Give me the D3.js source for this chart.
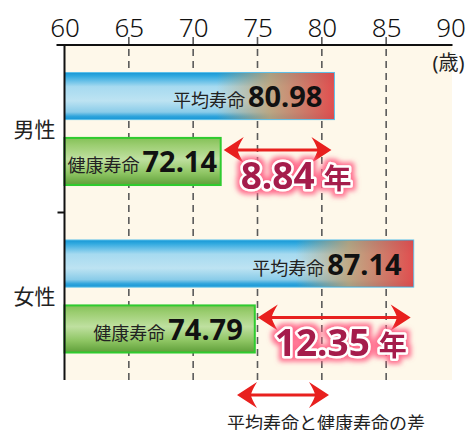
<!DOCTYPE html>
<meta charset="utf-8">
<style>
body { margin: 0; background: #fff; }
svg text { font-family: "Noto Sans", "Noto Sans CJK JP", sans-serif; }
</style>
<body>
<div id="chart"></div>
<script src="https://d3js.org/d3.v7.min.js"></script>
<script>

// values
var genders     = ["男性", "女性"];
var kinds       = ["平均寿命", "健康寿命"];
var avgLife     = [80.98, 87.14];
var healthyLife = [72.14, 74.79];
var gapYears    = [8.84, 12.35];
var xTicks      = [60, 65, 70, 75, 80, 85, 90];
var unitLabel   = "(歳)";
var legendText  = "平均寿命と健康寿命の差";

var chartWidth = 469, chartHeight = 430;
var plot = {top: 45, bottom: 380};

var svg = d3.select("#chart").append("svg")
    .attr("width", chartWidth)
    .attr("height", chartHeight);

var defs = svg.append("defs");

var x = d3.scaleLinear().domain([60, 90]).range([64.5, 450.5]);
var y0 = d3.scaleBand().domain(genders).range([plot.top, plot.bottom]);
var y1 = d3.scaleBand().domain(kinds).range([0, y0.bandwidth()])
    .paddingInner(0.28).paddingOuter(0.42);

// gradients
function vGrad(id, stops) {
  var g = defs.append("linearGradient").attr("id", id)
      .attr("x1", 0).attr("y1", 0).attr("x2", 0).attr("y2", 1);
  stops.forEach(function(s) {
    g.append("stop").attr("offset", s[0]).attr("stop-color", s[1]);
  });
}
vGrad("blueGrad", [[0, "#1797d5"], [0.08, "#32aae0"], [0.3, "#a6daf0"],
                   [0.6, "#bde3f2"], [0.84, "#8acce9"], [0.93, "#2fa4dc"], [1, "#1797d5"]]);
vGrad("greenGrad", [[0, "#84c158"], [0.15, "#9bcd70"], [0.45, "#bfe0a0"],
                    [0.75, "#8ec563"], [1, "#5f9f39"]]);

// glow for the gap numbers
var glow = defs.append("filter").attr("id", "glow")
    .attr("x", "-20%").attr("y", "-40%").attr("width", "140%").attr("height", "180%");
glow.append("feMorphology").attr("in", "SourceAlpha").attr("operator", "dilate")
    .attr("radius", 2.5).attr("result", "d");
glow.append("feGaussianBlur").attr("in", "d").attr("stdDeviation", 2.5).attr("result", "b");
glow.append("feFlood").attr("flood-color", "#ff5f85").attr("flood-opacity", 0.9);
glow.append("feComposite").attr("in2", "b").attr("operator", "in").attr("result", "g");
var merge = glow.append("feMerge");
merge.append("feMergeNode").attr("in", "g");
merge.append("feMergeNode").attr("in", "SourceGraphic");

// plot background
svg.append("rect")
    .attr("x", x(60)).attr("y", plot.top)
    .attr("width", x(90) - x(60) + 1.5).attr("height", plot.bottom - plot.top)
    .attr("fill", "#fef8ea");

// dashed grid
svg.selectAll(".grid")
    .data(xTicks.filter(function(t) { return t > 60 && t < 90; }))
    .enter().append("line")
    .attr("x1", function(d) { return x(d); })
    .attr("x2", function(d) { return x(d); })
    .attr("y1", plot.top - 8).attr("y2", plot.bottom)
    .attr("stroke", "#5a5a5a").attr("stroke-width", 1.6)
    .attr("stroke-dasharray", "7,5");

var rows = [];
genders.forEach(function(g, i) {
  rows.push({g: g, k: kinds[0], v: avgLife[i]});
  rows.push({g: g, k: kinds[1], v: healthyLife[i]});
});

function barY(d) { return y0(d.g) + y1(d.k); }

var bars = svg.selectAll(".bar")
    .data(rows)
    .enter().append("g").attr("class", "bar");

bars.append("rect")
    .attr("x", x(60))
    .attr("y", barY)
    .attr("width", function(d) { return x(d.v) - x(60); })
    .attr("height", y1.bandwidth())
    .attr("fill", function(d) { return d.k == kinds[0] ? "url(#blueGrad)" : "url(#greenGrad)"; })
    .attr("stroke", function(d) { return d.k == kinds[0] ? "#5cc0ea" : "#2fcb2f"; })
    .attr("stroke-width", function(d) { return d.k == kinds[0] ? 1 : 2; });

// reddish fade at the end of the average-life bars
bars.filter(function(d) { return d.k == kinds[0]; })
    .each(function(d, i) {
      var id = "redFade" + i;
      var g = defs.append("linearGradient").attr("id", id)
          .attr("gradientUnits", "userSpaceOnUse")
          .attr("x1", x(d.v) - 118).attr("x2", x(d.v)).attr("y1", 0).attr("y2", 0);
      g.append("stop").attr("offset", 0).attr("stop-color", "#c0a46e").attr("stop-opacity", 0);
      g.append("stop").attr("offset", 0.45).attr("stop-color", "#c2a072").attr("stop-opacity", 0.85);
      g.append("stop").attr("offset", 1).attr("stop-color", "#e34646").attr("stop-opacity", 0.95);
      d3.select(this).append("rect")
          .attr("x", x(60) + 0.5)
          .attr("y", barY(d) + 0.5)
          .attr("width", x(d.v) - x(60) - 1)
          .attr("height", y1.bandwidth() - 1)
          .attr("fill", "url(#" + id + ")");
    });

// bar labels
bars.each(function(d) {
  var t = d3.select(this).append("text")
      .attr("text-anchor", "end")
      .attr("y", barY(d) + y1.bandwidth() / 2 + 11);
  t.append("tspan").attr("font-size", 18).attr("fill", "#222")
      .attr("font-family", "'Noto Sans CJK JP', sans-serif")
      .text(d.k);
  t.append("tspan").attr("font-size", 29).attr("font-weight", 700).attr("fill", "#111")
      .attr("dx", 3)
      .text(d3.format(".2f")(d.v));
  var w = t.node().getComputedTextLength() + 3;
  var xr = Math.max(x(d.v) - 12, x(60) + 3 + w);
  t.attr("x", xr);
});

// axes
var xAxis = svg.append("g")
    .attr("transform", "translate(0," + plot.top + ")")
    .call(d3.axisTop(x).tickValues(xTicks).tickSize(0).tickPadding(8));
xAxis.select(".domain").remove();
xAxis.selectAll("text")
    .attr("font-size", 26).attr("fill", "#111").attr("font-weight", 300)
    .attr("font-family", "'Noto Sans', sans-serif");

svg.append("line")
    .attr("x1", x(60) - 8).attr("x2", x(90) + 2)
    .attr("y1", plot.top).attr("y2", plot.top)
    .attr("stroke", "#111").attr("stroke-width", 2.2);
svg.append("line")
    .attr("x1", x(60)).attr("x2", x(60))
    .attr("y1", plot.top).attr("y2", plot.bottom)
    .attr("stroke", "#111").attr("stroke-width", 2);

svg.selectAll(".sep")
    .data(genders.slice(1))
    .enter().append("line")
    .attr("x1", x(60) - 7).attr("x2", x(60))
    .attr("y1", function(d) { return y0(d); })
    .attr("y2", function(d) { return y0(d); })
    .attr("stroke", "#111").attr("stroke-width", 2);

svg.selectAll(".cat")
    .data(genders)
    .enter().append("text")
    .attr("x", x(60) - 9)
    .attr("y", function(d) { return y0(d) + y0.bandwidth() / 2 + 8; })
    .attr("text-anchor", "end")
    .attr("font-size", 21).attr("fill", "#222")
    .attr("font-family", "'Noto Sans CJK JP', sans-serif")
    .text(function(d) { return d; });

svg.append("text")
    .attr("x", x(90) + 14).attr("y", plot.top + 25)
    .attr("text-anchor", "end")
    .attr("font-size", 20).attr("fill", "#222")
    .attr("font-family", "'Noto Sans CJK JP', sans-serif")
    .text(unitLabel);

// double arrows
function headPath(tipX, yy, dir) {
  var L = 20, H = 13, N = 14;
  var p = d3.path();
  p.moveTo(tipX, yy);
  p.lineTo(tipX + dir * L, yy - H);
  p.quadraticCurveTo(tipX + dir * N, yy - 3, tipX + dir * N, yy);
  p.quadraticCurveTo(tipX + dir * N, yy + 3, tipX + dir * L, yy + H);
  p.closePath();
  return p.toString();
}
function doubleArrow(g, xa, xb, yy) {
  g.append("line")
      .attr("x1", xa + 10).attr("x2", xb - 10)
      .attr("y1", yy).attr("y2", yy)
      .attr("stroke", "#e8201e").attr("stroke-width", 3);
  g.append("path").attr("d", headPath(xa, yy, 1)).attr("fill", "#e8201e");
  g.append("path").attr("d", headPath(xb, yy, -1)).attr("fill", "#e8201e");
}

genders.forEach(function(g, i) {
  var top = y0(g) + y1(kinds[1]);
  var grp = svg.append("g");
  doubleArrow(grp, x(healthyLife[i]) + 3, x(avgLife[i]) - 3, top + 12);

  var t = svg.append("text")
      .attr("x", x(healthyLife[i]) + 20)
      .attr("y", top + 51)
      .attr("fill", "#a51e4b")
      .attr("stroke", "#fff").attr("stroke-width", 5)
      .attr("stroke-linejoin", "round")
      .attr("paint-order", "stroke")
      .attr("filter", "url(#glow)");
  t.append("tspan").attr("font-size", 37).attr("font-weight", 700)
      .attr("font-family", "'Noto Sans', sans-serif")
      .text(d3.format(".2f")(gapYears[i]));
  t.append("tspan").attr("font-size", 28).attr("font-weight", 700).attr("dx", 9)
      .attr("font-family", "'Noto Sans CJK JP', sans-serif")
      .text("年");
});

// legend
var leg = svg.append("g");
doubleArrow(leg, 237, 329, 395);
leg.append("text")
    .attr("x", 227).attr("y", 430)
    .attr("font-size", 18).attr("fill", "#222")
    .attr("font-family", "'Noto Sans CJK JP', sans-serif")
    .text(legendText);

</script>
